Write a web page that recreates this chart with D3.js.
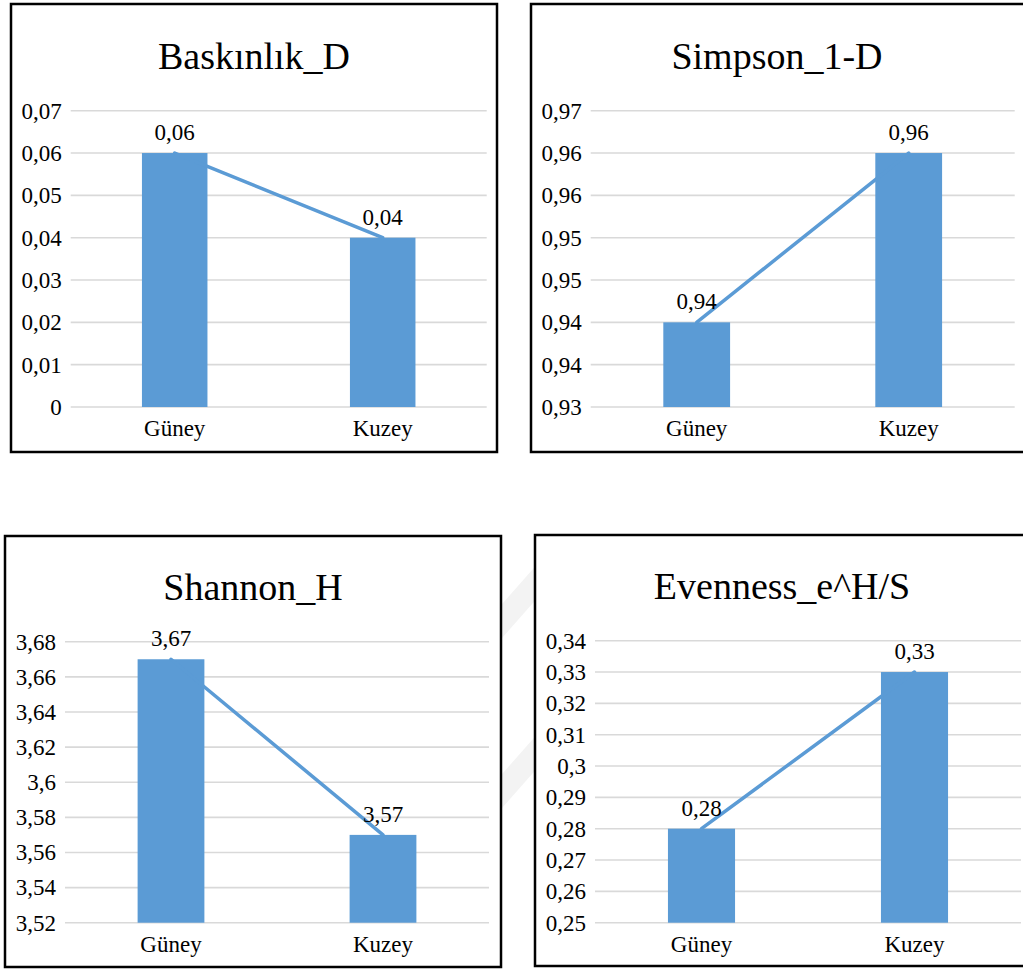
<!DOCTYPE html>
<html>
<head>
<meta charset="utf-8">
<script src="https://cdn.jsdelivr.net/npm/d3@7"></script>
</head>
<body style="margin:0; background:#fff; overflow:hidden">
<svg id="chart" width="1023" height="970" font-family="Liberation Serif" style="display:block"></svg>
<script>
// Sites compared in every panel
const categories = ["Güney", "Kuzey"];

// Index titles
const titles = ["Baskınlık_D", "Simpson_1-D", "Shannon_H", "Evenness_e^H/S"];

// Index values per site
const baskinlikValues = [0.06, 0.04];
const simpsonValues   = [0.94, 0.96];
const shannonValues   = [3.67, 3.57];
const evennessValues  = [0.28, 0.33];

// Value-axis ticks per panel
const baskinlikTicks = [0, 0.01, 0.02, 0.03, 0.04, 0.05, 0.06, 0.07];
const simpsonTicks   = [0.93, 0.935, 0.94, 0.945, 0.95, 0.955, 0.96, 0.965];
const shannonTicks   = [3.52, 3.54, 3.56, 3.58, 3.60, 3.62, 3.64, 3.66, 3.68];
const evennessTicks  = [0.25, 0.26, 0.27, 0.28, 0.29, 0.30, 0.31, 0.32, 0.33, 0.34];

const series = [baskinlikValues, simpsonValues, shannonValues, evennessValues];
const tickSets = [baskinlikTicks, simpsonTicks, shannonTicks, evennessTicks];

// Frame and plot-area geometry of the four panels
const layout = [
  { box: [11, 4, 497, 452],   plot: [70.7, 110.7, 486.7, 407], titleX: 254, titleY: 69 },
  { box: [531, 4, 1026, 452], plot: [590.7, 110.7, 1014.7, 407], titleX: 777, titleY: 69 },
  { box: [5, 536, 501, 967],  plot: [65, 641.7, 489, 922.7], titleX: 253, titleY: 600 },
  { box: [535, 535, 1030, 966], plot: [595, 640.7, 1021, 922.7], titleX: 782, titleY: 599 }
];

const barColor = "#5B9BD5";
const gridColor = "#d9d9d9";

// Two decimals, decimal comma, no trailing zeros
const fmt = v => {
  const r = Math.round(v * 100 + 1e-6) / 100;
  return String(r).replace(".", ",");
};

const svg = d3.select("#chart");

// faint diagonal background stripes showing between the panels
const bg = svg.append("g").attr("fill", "#f3f3f3");
[[640, 595], [810, 765]].forEach(([yl, yr]) => {
  bg.append("polygon")
    .attr("points", `495,${yl + 6} 540,${yr} 540,${yr - 34} 495,${yl - 28}`);
});

layout.forEach((L, i) => {
  const g = svg.append("g");
  const [bx0, by0, bx1, by1] = L.box;
  const [px0, py0, px1, py1] = L.plot;
  const ticks = tickSets[i];
  const values = series[i];

  g.append("rect")
    .attr("x", bx0).attr("y", by0)
    .attr("width", bx1 - bx0).attr("height", by1 - by0)
    .attr("fill", "#fff")
    .attr("stroke", "#000").attr("stroke-width", 2.5);

  svg.append("text")
    .attr("x", L.titleX).attr("y", L.titleY)
    .attr("text-anchor", "middle")
    .attr("fill", "#000")
    .attr("font-family", "Liberation Serif")
    .attr("font-size", 38)
    .text(titles[i]);

  const x = d3.scaleBand()
    .domain(categories)
    .range([px0, px1])
    .paddingInner(0.685)
    .paddingOuter(0.3425);

  const y = d3.scaleLinear()
    .domain(d3.extent(ticks))
    .range([py1, py0]);

  // horizontal gridlines
  g.append("g").selectAll("line").data(ticks).join("line")
    .attr("x1", px0).attr("x2", px1)
    .attr("y1", d => y(d)).attr("y2", d => y(d))
    .attr("stroke", gridColor).attr("stroke-width", 1.6);

  // value axis labels
  const yAxis = d3.axisLeft(y).tickValues(ticks).tickFormat(fmt).tickSize(0).tickPadding(9);
  const ya = g.append("g").attr("transform", `translate(${px0},0)`).call(yAxis)
    .attr("font-family", "Liberation Serif").attr("font-size", 23);
  ya.select(".domain").remove();
  ya.selectAll("text").attr("fill", "#000");

  // category axis labels
  const xAxis = d3.axisBottom(x).tickSize(0).tickPadding(13);
  const xa = g.append("g").attr("transform", `translate(0,${py1})`).call(xAxis)
    .attr("font-family", "Liberation Serif").attr("font-size", 23);
  xa.select(".domain").remove();
  xa.selectAll("text").attr("fill", "#000");

  const data = categories.map((c, k) => ({ c, v: values[k] }));

  // bars
  g.append("g").selectAll("rect").data(data).join("rect")
    .attr("x", d => x(d.c))
    .attr("y", d => y(d.v))
    .attr("width", x.bandwidth())
    .attr("height", d => py1 - y(d.v))
    .attr("fill", barColor);

  // connecting line through the bar tops
  const line = d3.line()
    .x(d => x(d.c) + x.bandwidth() / 2)
    .y(d => y(d.v));
  g.append("path")
    .datum(data)
    .attr("d", line)
    .attr("fill", "none")
    .attr("stroke", barColor)
    .attr("stroke-width", 3.5)
    .attr("stroke-linecap", "round");

  // data labels
  g.append("g").selectAll("text").data(data).join("text")
    .attr("x", d => x(d.c) + x.bandwidth() / 2)
    .attr("y", d => y(d.v) - 13)
    .attr("text-anchor", "middle")
    .attr("fill", "#000")
    .attr("font-family", "Liberation Serif")
    .attr("font-size", 23)
    .text(d => fmt(d.v));
});
</script>
</body>
</html>
